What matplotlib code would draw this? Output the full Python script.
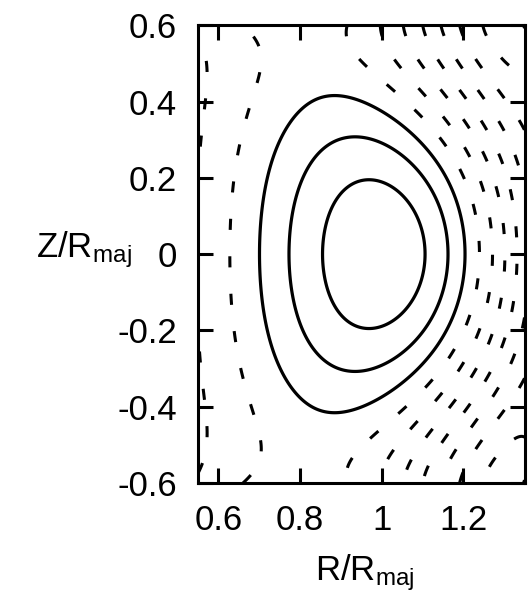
import numpy as np
import matplotlib
matplotlib.use("Agg")
import matplotlib.pyplot as plt

plt.rcParams['font.family'] = ['Liberation Sans', 'DejaVu Sans']
plt.rcParams['mathtext.fontset'] = 'custom'
plt.rcParams['mathtext.rm'] = 'Liberation Sans'
plt.rcParams['mathtext.it'] = 'Liberation Sans:italic'
plt.rcParams['lines.scale_dashes'] = False

# ---- flux-surface samples: R/Rmaj, Z/Rmaj and contour index ----
sample_R = [
    # level 1 (innermost, solid)
    0.872, 1.111, 0.975, 0.975, 0.878, 0.906, 1.053, 1.094,
    # level 2 (solid)
    0.776, 1.163, 0.930, 0.930, 0.784, 0.812, 0.857, 0.971, 1.053, 1.118, 1.155,
    # level 3 (outer solid)
    0.702, 1.204, 0.873, 0.873, 0.706, 0.743, 0.780, 0.971, 1.020, 1.062, 1.135, 1.179, 1.200,
    # level 4 (dashed)
    0.624, 0.629, 0.649, 0.674, 0.690, 0.703, 0.653, 0.637, 0.661, 0.690, 0.703, 0.649,
    0.882, 0.943, 1.012, 1.082, 1.112, 1.176, 1.212, 1.233, 1.233, 1.217, 1.176, 1.128, 1.058, 1.000,
    # level 5
    0.988, 1.037, 1.092, 1.152, 1.192, 1.217, 1.258, 1.270, 1.262, 1.233, 1.165, 1.110, 1.047,
    0.565, 0.584, 0.576, 0.559, 0.561, 0.580, 0.585, 0.573,
    # level 6
    1.053, 1.110, 1.174, 1.225, 1.250, 1.282, 1.302, 1.302, 1.286, 1.258, 1.224, 1.177, 1.118,
    # level 7
    1.106, 1.143, 1.198, 1.245, 1.296, 1.331, 1.331, 1.238, 1.187,
    # level 8
    1.159, 1.208, 1.261, 1.306, 1.310,
    # level 9
    1.208, 1.261, 1.310,
    # level 10
    1.257, 1.310,
    # level 11
    1.306,
    # between levels 4 and 5 at the inboard midplane (no contour there)
    0.552, 0.552,
]
sample_Z = [
    0.0, 0.0, 0.1895, -0.195, 0.097, 0.158, 0.150, 0.080,
    0.0, 0.0, 0.314, -0.317, 0.142, 0.229, 0.290, 0.307, 0.272, 0.203, 0.107,
    0.0, 0.0, 0.416, -0.420, 0.142, 0.272, 0.360, 0.390, 0.351, 0.315, 0.238, 0.150, 0.063,
    0.020, 0.123, 0.225, 0.325, 0.396, 0.498, 0.584, -0.173, -0.286, -0.400, -0.513, -0.590,
    0.579, 0.498, 0.432, 0.364, 0.320, 0.228, 0.136, 0.037, -0.070, -0.136, -0.230, -0.310, -0.390, -0.440,
    0.580, 0.498, 0.417, 0.342, 0.270, 0.207, 0.110, 0.000, -0.094, -0.196, -0.322, -0.403, -0.480,
    0.537, 0.438, 0.338, 0.255, -0.260, -0.364, -0.460, -0.513,
    0.580, 0.482, 0.390, 0.300, 0.245, 0.162, 0.060, -0.040, -0.139, -0.238, -0.306, -0.388, -0.470,
    0.580, 0.517, 0.434, 0.347, 0.242, 0.100, -0.105, -0.370, -0.453,
    0.580, 0.495, 0.408, 0.320, -0.306,
    0.580, 0.498, 0.410,
    0.580, 0.498,
    0.580,
    0.000, 0.120,
]
sample_level = ([1] * 8 + [2] * 11 + [3] * 13 + [4] * 26 + [5] * 21 + [6] * 13 +
                [7] * 9 + [8] * 5 + [9] * 3 + [10] * 2 + [11] + [4.7, 4.8])

solid_levels = [1, 2, 3]
dashed_levels = [4, 5, 6, 7, 8, 9, 10, 11, 12]

x_ticks = [0.6, 0.8, 1.0, 1.2]
x_ticklabels = ['0.6', '0.8', '1', '1.2']
y_ticks = [-0.6, -0.4, -0.2, 0.0, 0.2, 0.4, 0.6]
y_ticklabels = ['-0.6', '-0.4', '-0.2', '0', '0.2', '0.4', '0.6']

# ---- smooth, up-down symmetric flux function fitted through the samples ----
R_s = np.asarray(sample_R)
Z_s = np.asarray(sample_Z)
lev = np.asarray(sample_level, dtype=float)
wts = np.where(lev <= 3, 3.0, 1.0)


def basis(R, Z):
    u = R ** 2
    w = Z ** 2
    return np.stack([np.ones_like(u), u, u ** 2, u ** 3, u ** 4, w, u * w, u ** 2 * w,
                     u ** 3 * w, w ** 2, u * w ** 2, u ** 2 * w ** 2, w ** 3], axis=-1)


coef, *_ = np.linalg.lstsq(basis(R_s, Z_s) * wts[:, None], lev * wts, rcond=None)

Rg, Zg = np.meshgrid(np.linspace(0.55, 1.35, 500), np.linspace(-0.6, 0.6, 700))
psi = basis(Rg, Zg) @ coef

fig = plt.figure(figsize=(5.28, 6.09), dpi=100)
ax = fig.add_axes([0.375, 0.2069, 0.6184, 0.7516])

ax.contour(Rg, Zg, psi, levels=solid_levels, colors='black',
           linewidths=2.3, linestyles='solid')
cs = ax.contour(Rg, Zg, psi, levels=dashed_levels, colors='black',
                linewidths=2.2)
cs.set_linestyle((0, (8, 19)))

ax.set_xlim(0.55, 1.35)
ax.set_ylim(-0.6, 0.6)
ax.set_xticks(x_ticks)
ax.set_xticklabels(x_ticklabels)
ax.set_yticks(y_ticks)
ax.set_yticklabels(y_ticklabels)
ax.tick_params(direction='in', length=11, width=2.2, top=True, right=True,
               labelsize=25, pad=15)
for s in ax.spines.values():
    s.set_linewidth(2.2)

ax.set_xlabel(r'$\mathrm{R/R_{maj}}$', fontsize=25, va='baseline')
ax.xaxis.set_label_coords(0.51, -0.212)
ax.set_ylabel(r'$\mathrm{Z/R_{maj}}$', fontsize=25, rotation=0,
              ha='right', va='baseline')
ax.yaxis.set_label_coords(-0.202, 0.493)

fig.savefig('out.png', dpi=100)
